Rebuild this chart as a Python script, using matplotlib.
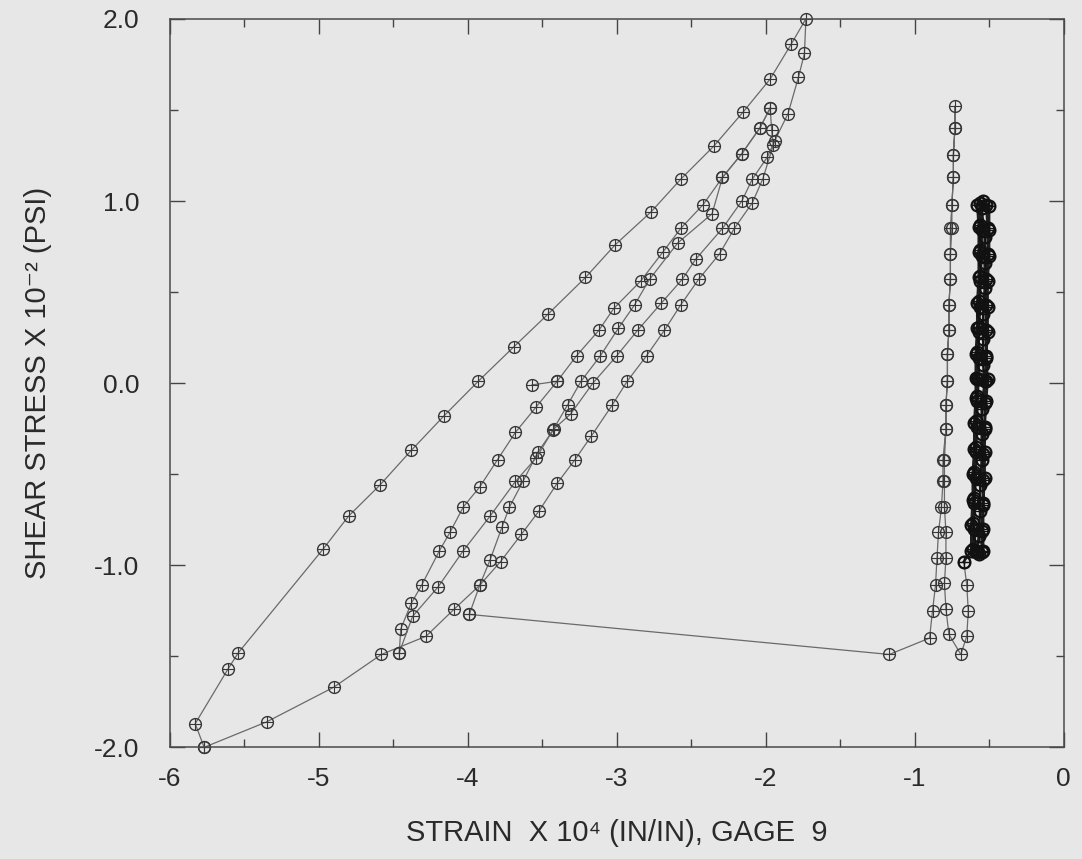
import matplotlib
matplotlib.use("Agg")
import matplotlib.pyplot as plt
from matplotlib.ticker import MultipleLocator

plt.rcParams["font.family"] = ["Liberation Sans", "DejaVu Sans"]
plt.rcParams["axes.unicode_minus"] = False

# outer loop: rising right branch then falling left branch
outer_x = [-5.77, -5.35, -4.90, -4.58, -4.28, -4.09, -3.92, -3.78, -3.64, -3.52,
           -3.40, -3.28, -3.17, -3.03, -2.93, -2.80, -2.68, -2.57, -2.45, -2.31,
           -2.21, -2.09, -2.02, -1.94, -1.85, -1.78, -1.74, -1.73,
           -1.83, -1.97, -2.15, -2.35, -2.57, -2.77, -3.01, -3.21, -3.46, -3.69,
           -3.93, -4.16, -4.38, -4.59, -4.80, -4.97, -5.54, -5.61, -5.83, -5.77]
outer_y = [-2.00, -1.86, -1.67, -1.49, -1.39, -1.24, -1.11, -0.98, -0.83, -0.70,
           -0.55, -0.42, -0.29, -0.12, 0.01, 0.15, 0.29, 0.43, 0.57, 0.71,
           0.85, 0.99, 1.12, 1.33, 1.48, 1.68, 1.81, 2.00,
           1.86, 1.67, 1.49, 1.30, 1.12, 0.94, 0.76, 0.58, 0.38, 0.20,
           0.01, -0.18, -0.37, -0.56, -0.73, -0.91, -1.48, -1.57, -1.87, -2.00]

# second loop
inner_x = [-4.46, -4.45, -4.38, -4.31, -4.19, -4.12, -4.03, -3.92, -3.80, -3.68,
           -3.54, -3.40, -3.27, -3.12, -3.02, -2.84, -2.69, -2.57, -2.42, -2.29,
           -2.16, -2.04, -1.97,
           -1.96, -1.95, -1.99, -2.09, -2.16, -2.29, -2.47, -2.56, -2.70, -2.86,
           -3.00, -3.16, -3.31, -3.42, -3.53, -3.63, -3.72, -3.77, -3.85, -3.92, -3.99]
inner_y = [-1.48, -1.35, -1.21, -1.11, -0.92, -0.82, -0.68, -0.57, -0.42, -0.27,
           -0.13, 0.01, 0.15, 0.29, 0.41, 0.56, 0.72, 0.85, 0.98, 1.13,
           1.26, 1.40, 1.51,
           1.39, 1.31, 1.24, 1.12, 1.00, 0.85, 0.68, 0.57, 0.44, 0.29,
           0.15, 0.00, -0.17, -0.25, -0.38, -0.54, -0.68, -0.79, -0.97, -1.11, -1.27]

# third rising branch
mid_x = [-4.46, -4.37, -4.20, -4.03, -3.85, -3.68, -3.54, -3.43, -3.33, -3.24,
         -3.11, -2.99, -2.88, -2.78, -2.59, -2.36, -2.29, -2.16, -2.04, -1.97]
mid_y = [-1.48, -1.28, -1.12, -0.92, -0.73, -0.54, -0.41, -0.26, -0.12, 0.01,
         0.15, 0.30, 0.43, 0.57, 0.77, 0.93, 1.13, 1.26, 1.40, 1.51]

start_x = [-3.57, -3.40]
start_y = [-0.01, 0.01]

# jump to the right, column up and down
col_x = [-3.99, -1.17, -0.90, -0.88, -0.86, -0.85, -0.84, -0.82, -0.81, -0.81,
         -0.79, -0.79, -0.78, -0.78, -0.77, -0.77, -0.76, -0.76, -0.76, -0.75,
         -0.74, -0.74, -0.73, -0.73,
         -0.73, -0.74, -0.74, -0.75, -0.75, -0.76, -0.76, -0.77, -0.77, -0.78,
         -0.78, -0.79, -0.79, -0.80, -0.80, -0.80, -0.79, -0.79, -0.80, -0.79,
         -0.77, -0.69, -0.65, -0.64, -0.65, -0.67]
col_y = [-1.27, -1.49, -1.40, -1.25, -1.11, -0.96, -0.82, -0.68, -0.54, -0.42,
         -0.25, -0.12, 0.01, 0.16, 0.29, 0.43, 0.57, 0.71, 0.85, 0.98,
         1.13, 1.25, 1.40, 1.52,
         1.40, 1.25, 1.13, 0.98, 0.85, 0.71, 0.57, 0.43, 0.29, 0.16,
         0.01, -0.12, -0.25, -0.42, -0.54, -0.68, -0.82, -0.96, -1.10, -1.24,
         -1.38, -1.49, -1.39, -1.25, -1.11, -0.98]

# dense block of repeated small cycles
block_x = [-0.67,
           -0.62, -0.62, -0.61, -0.61, -0.60, -0.60, -0.59, -0.59, -0.59, -0.58,
           -0.58, -0.57, -0.57, -0.57, -0.58, -0.54, -0.50,
           -0.50, -0.50, -0.51, -0.51, -0.51, -0.52, -0.51, -0.52, -0.53, -0.53,
           -0.53, -0.54, -0.54, -0.54, -0.57,
           -0.61, -0.61, -0.60, -0.60, -0.59, -0.59, -0.58, -0.58, -0.58, -0.57,
           -0.57, -0.56, -0.56, -0.56, -0.56, -0.52,
           -0.51, -0.51, -0.52, -0.52, -0.52, -0.52, -0.52, -0.53, -0.53, -0.54,
           -0.54, -0.54, -0.55, -0.55, -0.59,
           -0.60, -0.60, -0.59, -0.59, -0.58, -0.58, -0.57, -0.57, -0.57, -0.56,
           -0.56, -0.55, -0.55, -0.55,
           -0.53, -0.53, -0.53, -0.54, -0.54, -0.54, -0.53, -0.55, -0.55, -0.55,
           -0.56, -0.56, -0.57, -0.58]
block_y = [-0.98,
           -0.92, -0.78, -0.64, -0.50, -0.36, -0.22, -0.08, 0.03, 0.16, 0.30,
           0.44, 0.58, 0.72, 0.86, 0.98, 1.00, 0.97,
           0.84, 0.70, 0.56, 0.42, 0.28, 0.14, 0.02, -0.10, -0.24, -0.38,
           -0.52, -0.66, -0.80, -0.92, -0.94,
           -0.91, -0.77, -0.63, -0.49, -0.35, -0.21, -0.07, 0.02, 0.17, 0.31,
           0.45, 0.59, 0.73, 0.87, 0.99, 0.98,
           0.85, 0.71, 0.57, 0.43, 0.29, 0.15, 0.01, -0.11, -0.25, -0.39,
           -0.53, -0.67, -0.81, -0.93, -0.93,
           -0.80, -0.66, -0.52, -0.38, -0.24, -0.10, 0.02, 0.14, 0.28, 0.42,
           0.56, 0.70, 0.84, 0.96,
           0.80, 0.66, 0.52, 0.38, 0.24, 0.10, 0.01, -0.14, -0.28, -0.42,
           -0.56, -0.70, -0.84, -0.92]

x_ticks = [-6, -5, -4, -3, -2, -1, 0]
y_ticks = [-2.0, -1.0, 0.0, 1.0, 2.0]

paper = "#e7e7e7"
ink = "#383838"

fig = plt.figure(figsize=(10.82, 8.59), dpi=100, facecolor=paper)
ax = fig.add_axes([0.157, 0.130, 0.826, 0.848], facecolor=paper)

paths = [(outer_x, outer_y), (inner_x, inner_y), (mid_x, mid_y),
         (start_x, start_y), (col_x, col_y)]
for xs, ys in paths:
    ax.plot(xs, ys, color="#6a6a6a", lw=0.9, marker="o", ms=8.5, mfc="none",
            mec=ink, mew=1.0, clip_on=False)
    ax.plot(xs, ys, ls="none", marker="+", ms=8, mec=ink, mew=0.8, clip_on=False)

# the block is drawn heavier, it prints almost solid black
ax.plot(block_x, block_y, color="#1e1e1e", lw=1.8, marker="o", ms=8.5, mfc="none",
        mec="#111111", mew=1.6)
ax.plot(block_x, block_y, ls="none", marker="+", ms=8, mec="#111111", mew=1.0)

ax.set_xlim(-6, 0)
ax.set_ylim(-2, 2)
ax.set_xticks(x_ticks)
ax.set_xticklabels([f"{t:d}" for t in x_ticks])
ax.set_yticks(y_ticks)
ax.set_yticklabels([f"{t:.1f}" for t in y_ticks])
ax.xaxis.set_minor_locator(MultipleLocator(0.5))
ax.yaxis.set_minor_locator(MultipleLocator(0.5))
ax.tick_params(which="both", direction="in", top=True, right=True, colors="#444444",
               labelcolor="#2a2a2a", labelsize=19)
ax.tick_params(which="major", length=11, width=1.0)
ax.tick_params(which="minor", length=6, width=1.0)
ax.tick_params(axis="x", pad=14)
ax.tick_params(axis="y", pad=22)
for s in ax.spines.values():
    s.set_color("#4a4a4a")
    s.set_linewidth(1.1)

ax.set_xlabel("STRAIN  X 10\u2074 (IN/IN), GAGE  9", fontsize=21, color="#2a2a2a",
              labelpad=20)
ax.set_ylabel("SHEAR STRESS X 10\u207b\u00b2 (PSI)", fontsize=21, color="#2a2a2a",
              labelpad=30)

fig.savefig("out.png", dpi=100, facecolor=paper)
